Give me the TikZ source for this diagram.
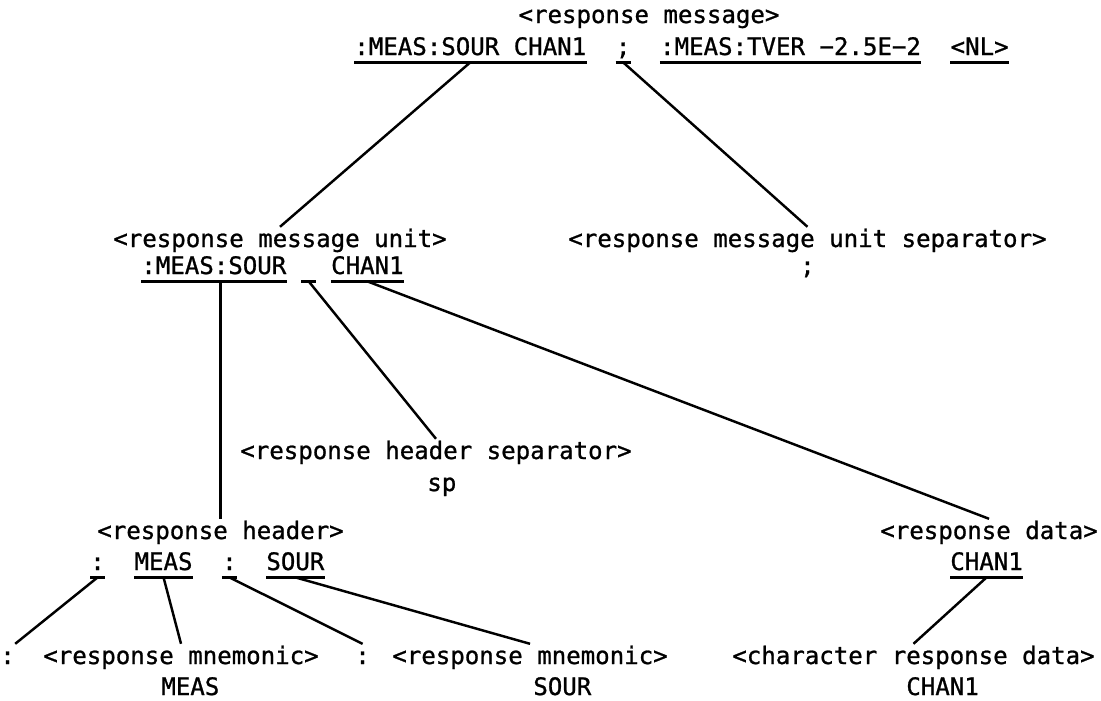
\documentclass[tikz,border=0pt]{standalone}
\usepackage{fontspec}
\setmonofont{DejaVu Sans Mono}[FakeBold=1]
\usepackage{tikz}
\usetikzlibrary{positioning}

\begin{document}
\begin{tikzpicture}[x=0.02cm,y=-0.02cm,
		word/.style={inner sep=0pt,text height=11.3pt,text depth=4pt,font=\fontsize{13.7pt}{16pt}\selectfont\ttfamily},
		uline/.style={line width=1.6pt},
		branch/.style={line width=1.4pt}]
		\useasboundingbox (0,0) rectangle (1101,700);
		% response message
		\node(msg) [word,anchor=base] at (649,23) {<response message>};
		\node(t1) [word,anchor=base west] at (354,55) {:MEAS:SOUR CHAN1};
		\node(t2) [word,right=0.58cm of t1] {;};
		\node(t3) [word,right=0.58cm of t2] {:MEAS:TVER −2.5E−2};
		\node(t4) [word,right=0.58cm of t3] {<NL>};
		% unit and unit separator
		\node(unit) [word,anchor=base west] at (113,247) {<response message unit>};
		\node(usep) [word,anchor=base west] at (568,247) {<response message unit separator>};
		\node(u1) [word,anchor=base west] at (141,274) {:MEAS:SOUR};
		\node(u2) [word,right=0.29cm of u1] {\phantom{M}};
		\node(u3) [word,right=0.29cm of u2] {CHAN1};
		\node(usc) [word,anchor=base] at (usep.base |- u1.base) {;};
		% header separator
		\node(hsep) [word,anchor=base west] at (240,459) {<response header separator>};
		\node(sp) [word,anchor=base west] at (427,491) {sp};
		% header and data
		\node(hdr) [word,anchor=base west] at (97,539) {<response header>};
		\node(hc1) [word,anchor=base west] at (90,570) {:};
		\node(hm) [word,right=0.58cm of hc1] {MEAS};
		\node(hc2) [word,right=0.58cm of hm] {:};
		\node(hs) [word,right=0.58cm of hc2] {SOUR};
		\node(rdata) [word,anchor=base west] at (880,539) {<response data>};
		\node(rd1) [word,anchor=base west] at (950,570) {CHAN1};
		% bottom row
		\node(b1) [word,anchor=base west] at (0,664) {:};
		\node(b2) [word,anchor=base west] at (43,664) {<response mnemonic>};
		\node(b3) [word,anchor=base west] at (355,664) {:};
		\node(b4) [word,anchor=base west] at (392,664) {<response mnemonic>};
		\node(b5) [word,anchor=base west] at (732,664) {<character response data>};
		\node(v2) [word,anchor=base west] at (161,695) {MEAS};
		\node(v4) [word,anchor=base west] at (533,695) {SOUR};
		\node(v5) [word,anchor=base west] at (906,695) {CHAN1};
		% underlines
		\foreach \w in {t1,t2,t3,t4,u1,u2,u3,hc1,hm,hc2,hs,rd1}
			\draw[uline] (\w.south west) -- (\w.south east);
		% branches
		\foreach \a/\b in {t1/unit,t2/usep,u2/hsep,u3/rdata,hm/b2,hc2/b3,hs/b4,rd1/b5}
			\draw[branch] (\a.south) -- (\b.north);
		\draw[branch] (hdr.north) -- (hdr.north |- u1.south);
		\draw[branch] (hc1.south) -- (b1.north east);
	\end{tikzpicture}
\end{document}
